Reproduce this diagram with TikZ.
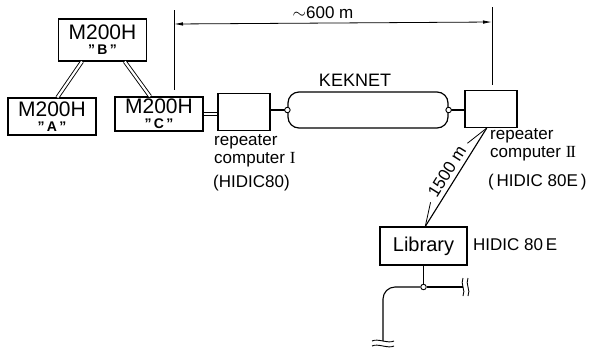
\documentclass[tikz,border=0pt]{standalone}
\usepackage{fontspec}
\setmainfont{Liberation Sans}
\newfontfamily\romfont{Liberation Serif}
\usetikzlibrary{arrows.meta, calc}
\tikzset{
  % an M200H terminal
  mach/.style = {draw, line width=1.1pt, minimum width=88pt, inner sep=0pt,
                 align=center, font=\fontsize{21}{15}\selectfont},
  % a repeater computer
  rep/.style  = {draw, line width=1.1pt, minimum width=52pt,
                 minimum height=37pt, inner sep=0pt},
  % the KEKNET ring
  ring/.style = {draw, line width=1.2pt, rounded corners=11pt,
                 minimum width=160pt, minimum height=36pt, inner sep=0pt},
  % a tap on a cable
  port/.style = {draw, circle, fill=white, line width=0.9pt, inner sep=0pt,
                 minimum size=5.5pt},
  % a doubled cable
  dbl/.style  = {double, double distance=2.2pt, line width=0.9pt},
  % a plain cable
  ln/.style   = {line width=1.1pt},
  % the distance marker
  dim/.style  = {{Latex[length=9pt,width=3.5pt]}-{Latex[length=9pt,width=3.5pt]},
                 line width=0.8pt},
  % text beside the parts
  lbl/.style  = {font=\fontsize{17}{18}\selectfont, inner sep=0pt, align=left},
  % a cable cut short
  brk/.style  = {line width=0.9pt},
}
\newcommand{\qt}[1]{{\fontsize{14}{15}\selectfont\bfseries"\,#1\,"}}

\begin{document}
\begin{tikzpicture}[x=1pt, y=-1pt]
  \useasboundingbox (0,0) rectangle (602,349);
  % --- the three terminals ---
  \node[mach, minimum height=42pt] (mb) at (102.5,40)  {M200H\\\qt{B}};
  \node[mach, minimum height=37pt] (ma) at (52,116.5)  {M200H\\\qt{A}};
  \node[mach, minimum height=34pt] (mc) at (159,114)   {M200H\\\qt{C}};
  \draw[dbl] ($(mb.south west)!0.27!(mb.south east)$)
          -- ($(ma.north west)!0.56!(ma.north east)$);
  \draw[dbl] ($(mb.south west)!0.75!(mb.south east)$)
          -- ($(mc.north west)!0.40!(mc.north east)$);
  % --- repeaters and the ring ---
  \node[rep]  (r1)  at (244,112)   {};
  \node[ring] (kek) at (368,110)   {};
  \node[rep]  (r2)  at (491,109)   {};
  \draw[dbl] (mc.east) -- (mc.east -| r1.west);
  \draw[ln] (r1.east |- kek.west) -- (kek.west);
  \draw[ln] (kek.east) -- (kek.east -| r2.west);
  \node[port] (pl) at (kek.west) {};
  \node[port] (pr) at (kek.east) {};
  \node[font=\fontsize{18}{18}\selectfont] (kekl) at (355,80) {KEKNET};
  % --- ~600 m ---
  \coordinate (dlt) at (174,10);
  \coordinate (dlb) at (174,90);
  \coordinate (drt) at (492,7);
  \coordinate (drb) at (492,85);
  \draw[line width=0.8pt] (dlt) -- (dlb);
  \draw[line width=0.8pt] (drt) -- (drb);
  \coordinate (dla) at (174,24);
  \coordinate (dra) at (492,22);
  \draw[dim] (dla) -- (dra);
  \node[font=\fontsize{17}{17}\selectfont] (len) at (323,13) {$\sim$600 m};
  % --- labels ---
  \node[lbl, anchor=north west] (t1) at (214,134) {repeater\\computer {\romfont I}};
  \node[lbl, anchor=west] (t1h) at (213,183) {(HIDIC80)};
  \node[lbl, anchor=north west] (t2) at (490,128) {repeater\\computer {\romfont I\kern-1ptI}};
  \node[lbl, anchor=west] (t2h) at (488,182) {(\,HIDIC 80E\,)};
  % --- the library ---
  \node[rep, minimum width=87pt, minimum height=38pt,
        font=\fontsize{20}{20}\selectfont] (lib) at (423.5,246) {Library};
  \node[lbl, anchor=west] (libh) at (473,245) {HIDIC 80\,E};
  \coordinate (ft) at ($(r2.south west)!0.42!(r2.south east)$);
  \coordinate (fb) at ($(lib.north west)!0.52!(lib.north east)$);
  \draw[ln] (ft) -- (fb);
  \draw[line width=0.8pt] (ft) -- ($(ft)!0.2!(fb)+(-7,-4.5)$);
  \draw[line width=0.8pt] (fb) -- ($(fb)!0.2!(ft)+(-7,-4.5)$);
  \node[rotate=58, font=\fontsize{17}{17}\selectfont]
        (flen) at ($(ft)!0.5!(fb)+(-9,-5.5)$) {1500 m};
  % --- the cable under it ---
  \coordinate (tapy) at (0,287);
  \node[port] (tap) at (lib.south |- tapy) {};
  \coordinate (cr) at (463,287);
  \coordinate (cd) at (383,341);
  \draw[ln] (lib.south) -- (tap);
  \draw[ln] (tap) -- (cr);
  \draw[ln, rounded corners=12pt] (tap) -| (cd);
  \foreach \d in {0,5} {
    \draw[brk] ($(cr)+(\d,-9)$) .. controls +(-3,6) and +(3,-6) .. ($(cr)+(\d,9)$);
    \draw[brk] ($(cd)+(-11,\d)$) .. controls +(6,-3) and +(-6,3) .. ($(cd)+(11,\d)$);
  }
\end{tikzpicture}
\end{document}
